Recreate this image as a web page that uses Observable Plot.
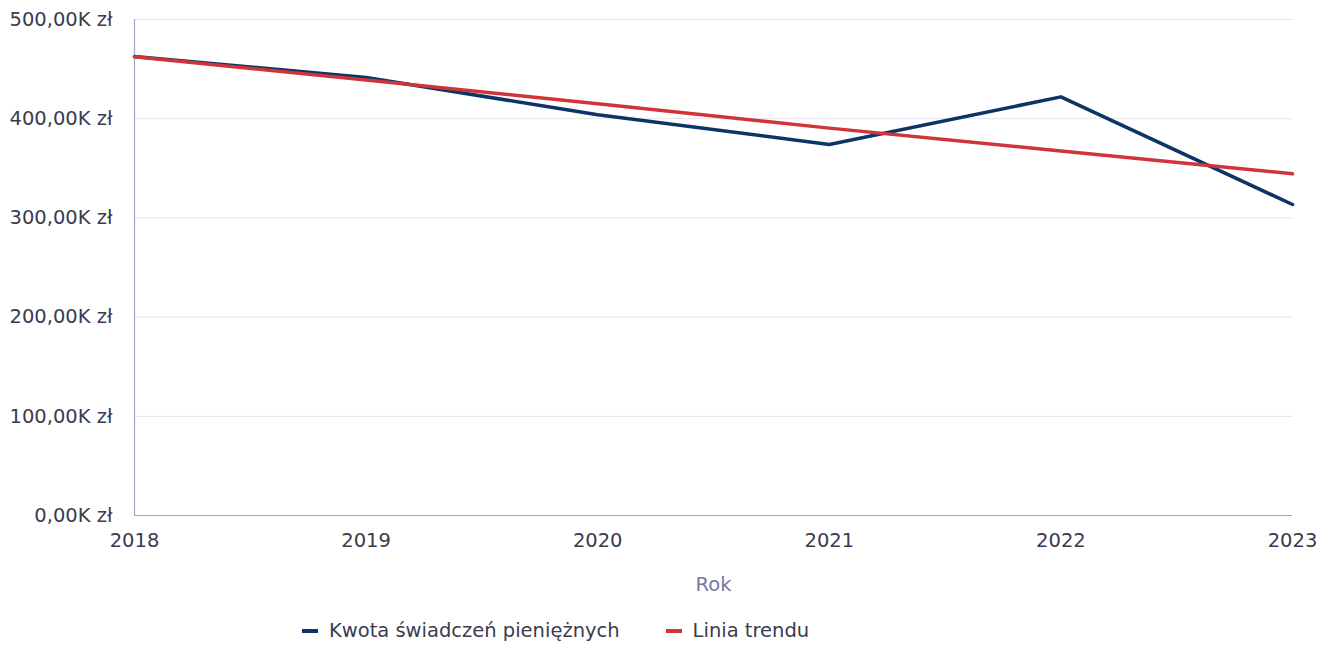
<!DOCTYPE html>
<html>
<head>
<meta charset="utf-8">
<script src="https://cdn.jsdelivr.net/npm/d3@7"></script>
<script src="https://cdn.jsdelivr.net/npm/@observablehq/plot@0.6"></script>
<style>
  html, body { margin: 0; padding: 0; background: #fff; }
  body { font-family: "DejaVu Sans", sans-serif; width: 1327px; height: 647px; overflow: hidden; }
  #chart svg { display: block; }
  .legend { display: flex; align-items: center; margin-left: 302px; margin-top: 19px; font-size: 19.5px; color: #3b3b4f; }
  .item { display: flex; align-items: center; margin-right: 46px; }
  .sw { width: 16px; height: 4px; margin-right: 11px; }
</style>
</head>
<body>
<div id="chart"></div>
<div class="legend">
  <div class="item"><span class="sw" style="background:#0a3566"></span><span>Kwota świadczeń pieniężnych</span></div>
  <div class="item"><span class="sw" style="background:#d13438"></span><span>Linia trendu</span></div>
</div>
<script>
const years = [2018, 2019, 2020, 2021, 2022, 2023];
const amounts = [462700, 441500, 404000, 374000, 422000, 313500];
const trend = [462500, 439000, 415000, 390500, 367500, 344500];
const yTicks = [0, 100000, 200000, 300000, 400000, 500000];
const seriesName = "Kwota świadczeń pieniężnych";
const trendName = "Linia trendu";
const xLabel = "Rok";

const data = years.map((y, i) => ({year: y, value: amounts[i]}));
const trendData = years.map((y, i) => ({year: y, value: trend[i]}));

const fmt = v => (v / 1000).toFixed(2).replace(".", ",") + "K zł";

const chart = Plot.plot({
  width: 1327,
  height: 600,
  marginLeft: 134,
  marginRight: 35,
  marginTop: 19,
  marginBottom: 85,
  style: {fontFamily: "'DejaVu Sans', sans-serif", fontSize: "19.5px", color: "#3b3b4f", background: "#fff"},
  x: {domain: [2018, 2023], label: null},
  y: {domain: [0, 500000], label: null},
  marks: [
    Plot.gridY(yTicks, {stroke: "#e4e4ee", strokeOpacity: 1, strokeWidth: 1}),
    Plot.ruleY([0], {stroke: "#a4a6c8", strokeWidth: 1.2}),
    Plot.ruleX([2018], {stroke: "#a4a6c8", strokeWidth: 1.2}),
    Plot.axisX({ticks: years, tickFormat: d => String(d), tickSize: 0, tickPadding: 18, label: null, fontSize: 19.5}),
    Plot.axisY({ticks: yTicks, tickFormat: fmt, tickSize: 0, tickPadding: 22, label: null, fontSize: 19.5}),
    Plot.line(data, {x: "year", y: "value", stroke: "#0a3566", strokeWidth: 3.5}),
    Plot.line(trendData, {x: "year", y: "value", stroke: "#d13438", strokeWidth: 3.5}),
    Plot.text([xLabel], {frameAnchor: "bottom", lineAnchor: "middle", dy: 69, text: d => d, fontSize: 19.5, fill: "#7579a6"})
  ]
});
document.getElementById("chart").appendChild(chart);
</script>
</body>
</html>
